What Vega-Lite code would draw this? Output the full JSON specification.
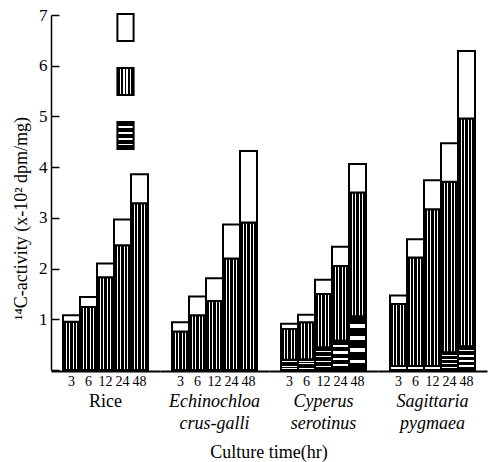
{
  "$schema": "https://vega.github.io/schema/vega-lite/v6.json",
  "padding": {"left": 12, "top": 6, "right": 1, "bottom": 0},
  "background": "white",
  "data": {"values": [
    {"species": "Rice", "time": 3, "h": 0, "v": 0.95, "total": 1.08},
    {"species": "Rice", "time": 6, "h": 0, "v": 1.24, "total": 1.44},
    {"species": "Rice", "time": 12, "h": 0, "v": 1.83, "total": 2.10},
    {"species": "Rice", "time": 24, "h": 0, "v": 2.46, "total": 2.97},
    {"species": "Rice", "time": 48, "h": 0, "v": 3.29, "total": 3.86},
    {"species": "Echinochloa crus-galli", "time": 3, "h": 0, "v": 0.76, "total": 0.94},
    {"species": "Echinochloa crus-galli", "time": 6, "h": 0, "v": 1.08, "total": 1.45},
    {"species": "Echinochloa crus-galli", "time": 12, "h": 0, "v": 1.36, "total": 1.81},
    {"species": "Echinochloa crus-galli", "time": 24, "h": 0, "v": 2.20, "total": 2.87},
    {"species": "Echinochloa crus-galli", "time": 48, "h": 0, "v": 2.91, "total": 4.32},
    {"species": "Cyperus serotinus", "time": 3, "h": 0.20, "v": 0.81, "total": 0.91},
    {"species": "Cyperus serotinus", "time": 6, "h": 0.21, "v": 0.94, "total": 1.09},
    {"species": "Cyperus serotinus", "time": 12, "h": 0.45, "v": 1.50, "total": 1.78},
    {"species": "Cyperus serotinus", "time": 24, "h": 0.58, "v": 2.05, "total": 2.43},
    {"species": "Cyperus serotinus", "time": 48, "h": 1.06, "v": 3.50, "total": 4.06},
    {"species": "Sagittaria pygmaea", "time": 3, "h": 0.08, "v": 1.30, "total": 1.47},
    {"species": "Sagittaria pygmaea", "time": 6, "h": 0.08, "v": 2.22, "total": 2.58},
    {"species": "Sagittaria pygmaea", "time": 12, "h": 0.08, "v": 3.17, "total": 3.74},
    {"species": "Sagittaria pygmaea", "time": 24, "h": 0.35, "v": 3.71, "total": 4.47},
    {"species": "Sagittaria pygmaea", "time": 48, "h": 0.47, "v": 4.96, "total": 6.29}
  ]},
  "facet": {
    "column": {
      "field": "species",
      "type": "nominal",
      "sort": ["Rice", "Echinochloa crus-galli", "Cyperus serotinus", "Sagittaria pygmaea"],
      "title": "Culture time(hr)",
      "header": {
        "labelOrient": "bottom",
        "titleOrient": "bottom",
        "labelFont": "Liberation Serif",
        "labelFontSize": 18,
        "labelColor": "black",
        "labelPadding": 5,
        "labelExpr": "split(datum.label, ' ')",
        "labelLineHeight": 22,
        "labelFontStyle": {"expr": "parent['species'] == 'Rice' ? 'normal' : 'italic'"},
        "titleFont": "Liberation Serif",
        "titleFontSize": 18,
        "titleFontWeight": "normal",
        "titleColor": "black",
        "titlePadding": 1
      }
    }
  },
  "spacing": 0,
  "spec": {
    "width": 109,
    "height": 355,
    "encoding": {
      "x": {
        "field": "time",
        "type": "ordinal",
        "sort": "ascending",
        "scale": {"paddingInner": 0, "paddingOuter": 0.706},
        "axis": {
          "title": null,
          "labelAngle": 0,
          "ticks": false,
          "domainColor": "black",
          "domainWidth": 2,
          "labelFont": "Liberation Serif",
          "labelFontSize": 14,
          "labelColor": "black",
          "labelPadding": 3
        }
      }
    },
    "layer": [
      {
        "mark": {"type": "bar", "strokeWidth": 2, "stroke": "black"},
        "encoding": {
          "y": {
            "field": "h", "type": "quantitative", "stack": null,
            "scale": {"domain": [0, 7], "nice": false},
            "axis": {
              "title": "¹⁴C-activity (x-10² dpm/mg)",
              "values": [0, 1, 2, 3, 4, 5, 6, 7],
              "labelExpr": "datum.value == 0 ? '' : datum.label",
              "tickSize": -8,
              "labelPadding": 12,
              "grid": false,
              "domainColor": "black",
              "tickColor": "black",
              "domainWidth": 1.5,
              "tickWidth": 1.5,
              "labelFont": "Liberation Serif",
              "labelFontSize": 17,
              "labelColor": "black",
              "titleFont": "Liberation Serif",
              "titleFontSize": 18,
              "titleFontWeight": "normal",
              "titleColor": "black",
              "titlePadding": 8,
              "titleY": 203
            }
          },
          "fill": {
            "datum": "bottom", "type": "nominal",
            "scale": {
              "domain": ["top", "middle", "bottom"],
              "range": [
                "white",
                {"expr": "{gradient: 'linear', x1: 0, y1: 0, x2: 1, y2: 0, stops: [{offset: 0, color: 'black'}, {offset: 0.16, color: 'black'}, {offset: 0.16, color: 'white'}, {offset: 0.24, color: 'white'}, {offset: 0.24, color: 'black'}, {offset: 0.36, color: 'black'}, {offset: 0.36, color: 'white'}, {offset: 0.44, color: 'white'}, {offset: 0.44, color: 'black'}, {offset: 0.56, color: 'black'}, {offset: 0.56, color: 'white'}, {offset: 0.64, color: 'white'}, {offset: 0.64, color: 'black'}, {offset: 0.76, color: 'black'}, {offset: 0.76, color: 'white'}, {offset: 0.84, color: 'white'}, {offset: 0.84, color: 'black'}, {offset: 1, color: 'black'}]}"},
                {"expr": "{gradient: 'linear', x1: 0, y1: 0, x2: 0, y2: 1, stops: [{offset: 0, color: 'black'}, {offset: 0.15, color: 'black'}, {offset: 0.15, color: 'white'}, {offset: 0.22, color: 'white'}, {offset: 0.22, color: 'black'}, {offset: 0.37, color: 'black'}, {offset: 0.37, color: 'white'}, {offset: 0.44, color: 'white'}, {offset: 0.44, color: 'black'}, {offset: 0.59, color: 'black'}, {offset: 0.59, color: 'white'}, {offset: 0.66, color: 'white'}, {offset: 0.66, color: 'black'}, {offset: 0.81, color: 'black'}, {offset: 0.81, color: 'white'}, {offset: 0.87, color: 'white'}, {offset: 0.87, color: 'black'}, {offset: 1, color: 'black'}]}"}
              ]
            },
            "legend": {
              "orient": "none",
              "legendX": 60,
              "legendY": -2,
              "title": null,
              "symbolType": "M-0.6,-1H0.6V1H-0.6Z",
              "symbolSize": 729,
              "symbolStrokeWidth": 2,
              "symbolStrokeColor": "black",
              "symbolOpacity": 1,
              "rowPadding": 19,
              "labelExpr": "''",
              "padding": 0
            }
          }
        }
      },
      {
        "mark": {"type": "bar", "strokeWidth": 2, "stroke": "black"},
        "encoding": {
          "y": {"field": "v", "type": "quantitative", "title": "¹⁴C-activity (x-10² dpm/mg)"},
          "y2": {"field": "h"},
          "fill": {"datum": "middle", "type": "nominal"}
        }
      },
      {
        "mark": {"type": "bar", "strokeWidth": 2, "stroke": "black"},
        "encoding": {
          "y": {"field": "total", "type": "quantitative", "title": "¹⁴C-activity (x-10² dpm/mg)"},
          "y2": {"field": "v"},
          "fill": {"datum": "top", "type": "nominal"}
        }
      }
    ]
  },
  "config": {
    "view": {"stroke": null},
    "font": "Liberation Serif"
  }
}
